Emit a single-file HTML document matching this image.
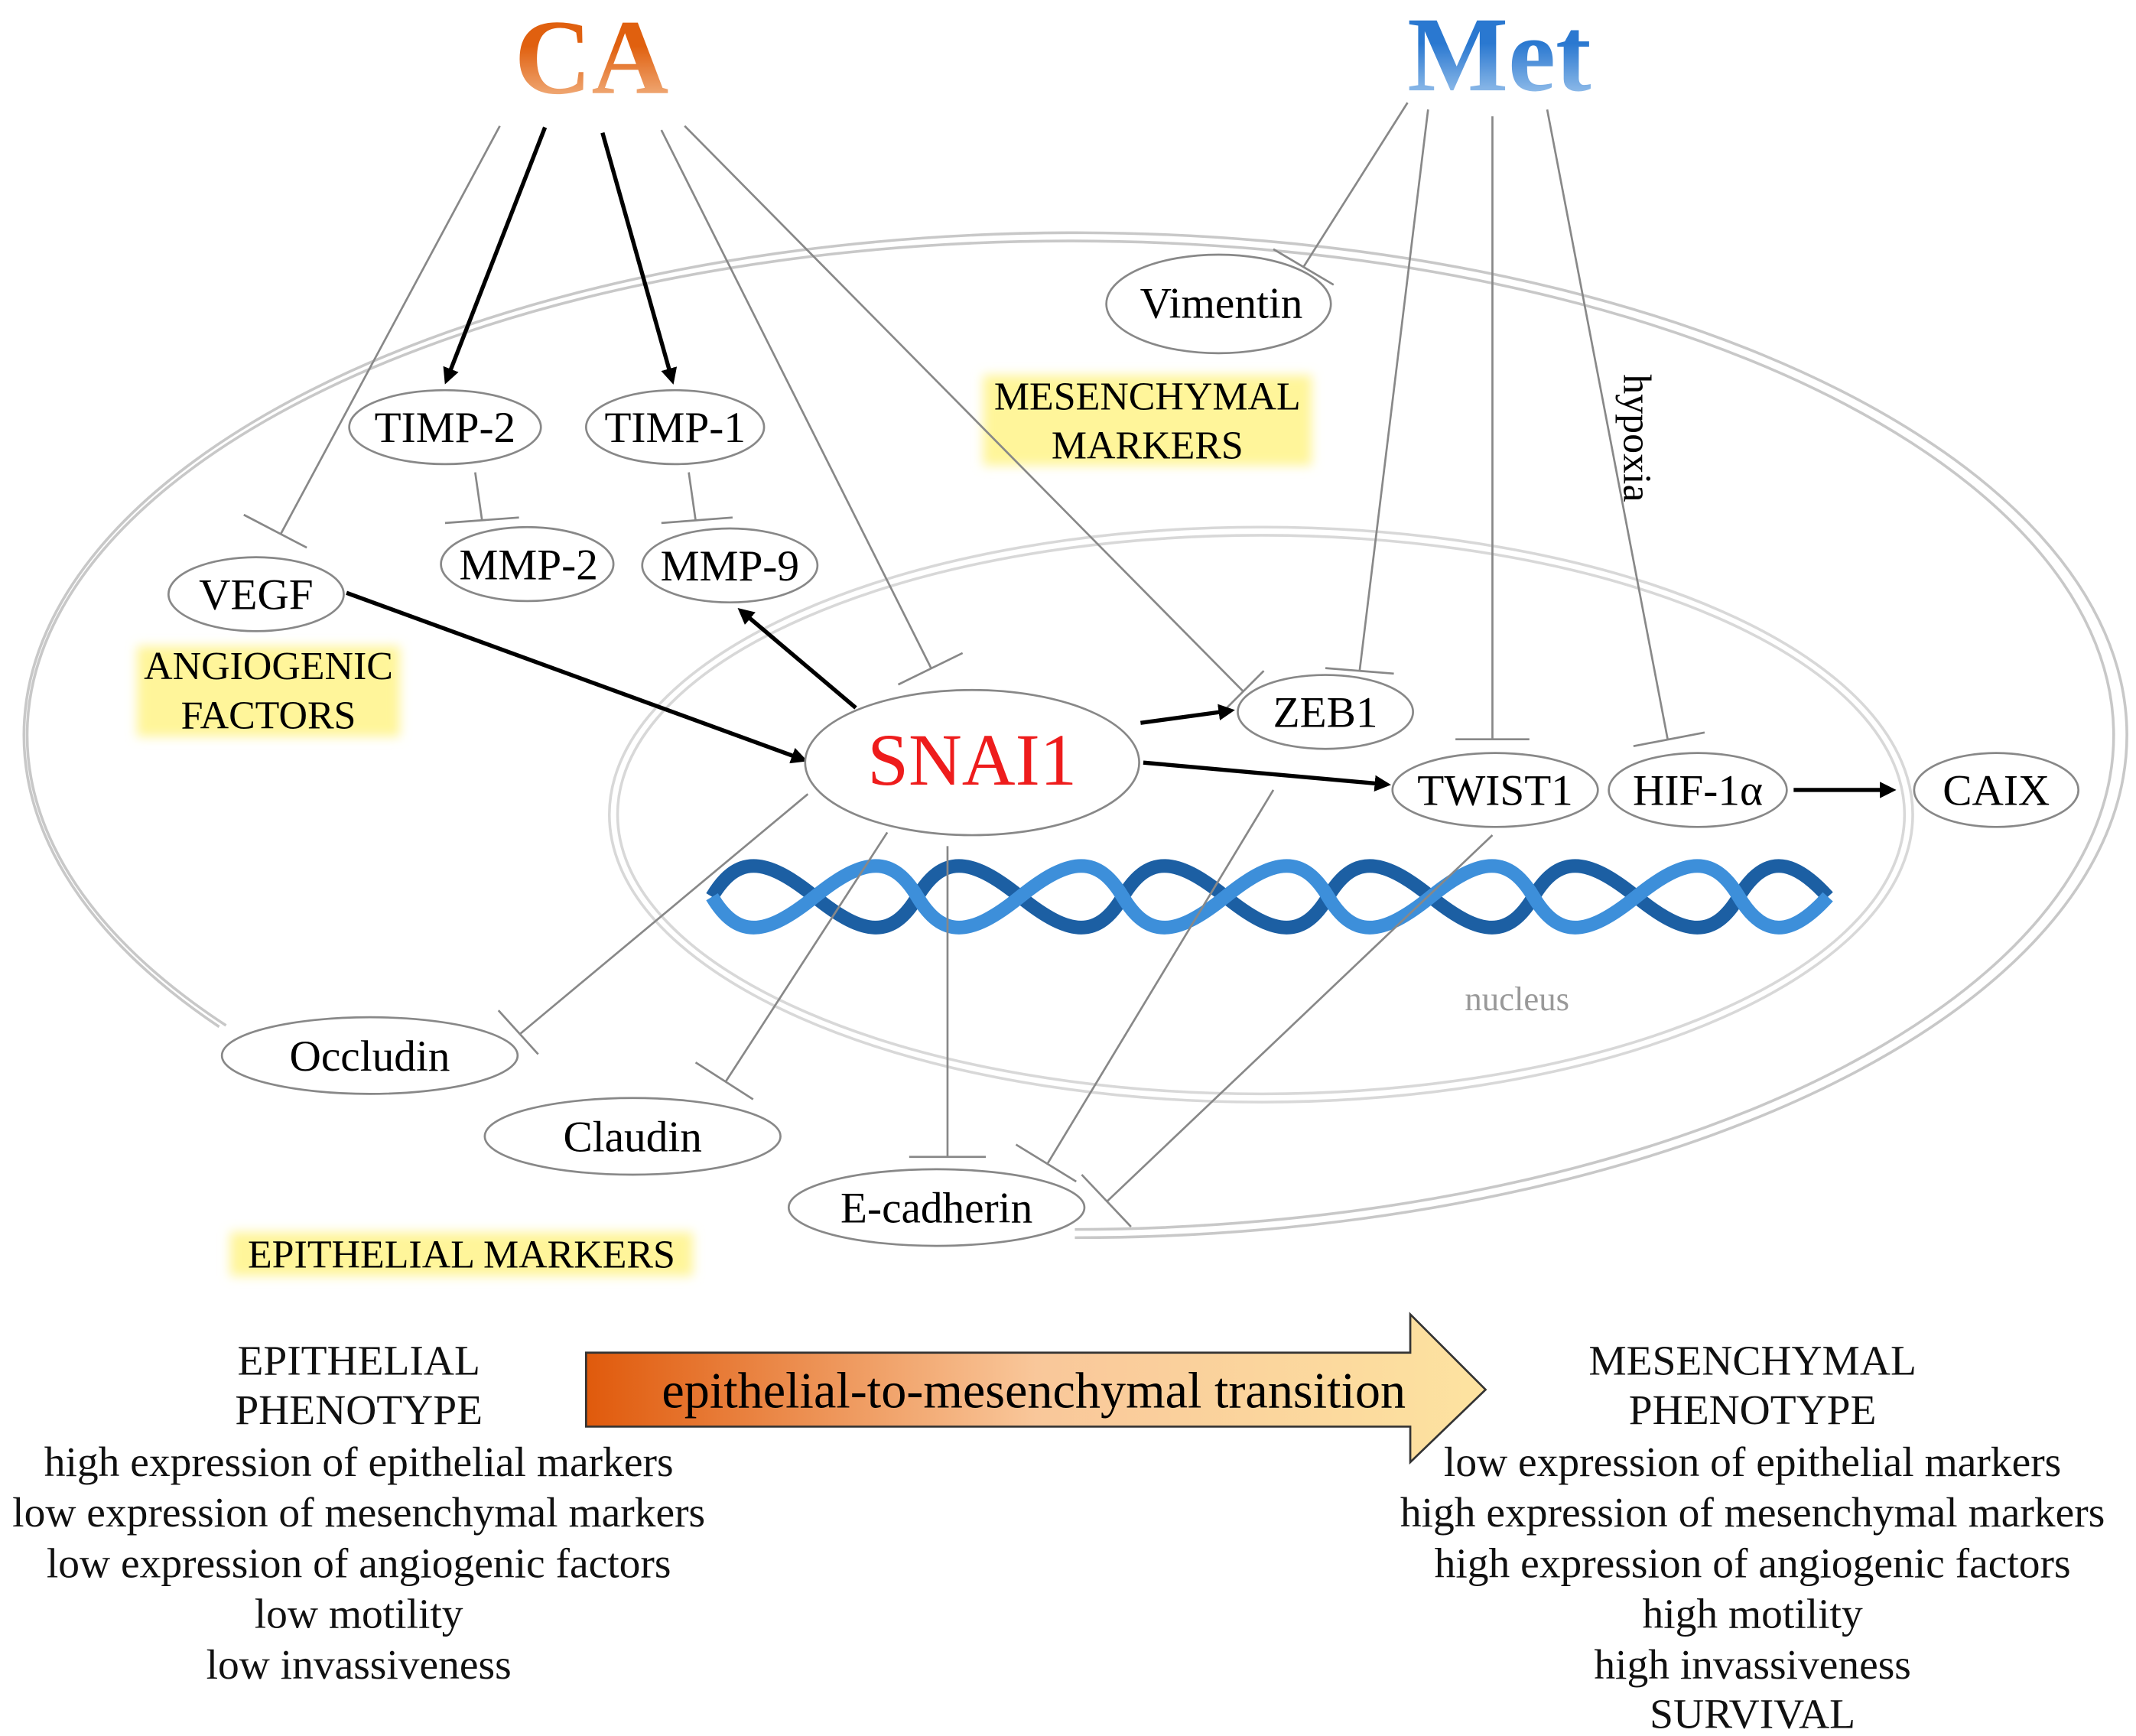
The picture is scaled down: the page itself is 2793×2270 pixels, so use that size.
<!DOCTYPE html>
<html><head><meta charset="utf-8"><style>
html,body{margin:0;padding:0;background:#fff;}
svg{display:block;}
text{font-family:"Liberation Serif",serif;}
</style></head><body>
<svg width="2793" height="2270" viewBox="0 0 1560 1268" xmlns="http://www.w3.org/2000/svg">
<defs>
<linearGradient id="ca" x1="0" y1="0" x2="0" y2="1"><stop offset="0.4" stop-color="#e0600f"/><stop offset="1" stop-color="#f6c7a0"/></linearGradient>
<linearGradient id="met" x1="0" y1="0" x2="0" y2="1"><stop offset="0.4" stop-color="#2a78d0"/><stop offset="1" stop-color="#b8d6f3"/></linearGradient>
<linearGradient id="emt" x1="0" y1="0" x2="1" y2="0"><stop offset="0" stop-color="#e05a0c"/><stop offset="0.5" stop-color="#f9c79a"/><stop offset="1" stop-color="#fde3a0"/></linearGradient>
<marker id="ah" markerWidth="12" markerHeight="12" refX="9" refY="6" orient="auto" markerUnits="userSpaceOnUse" viewBox="0 0 12 12"><path d="M0,0 L12,6 L0,12 z" fill="#000"/></marker>
<filter id="glow" x="-20%" y="-50%" width="140%" height="200%"><feGaussianBlur stdDeviation="4"/></filter>
</defs>

<!-- outer cell -->
<path d="M785,904 A768,367 0 1 0 160,750" fill="none" stroke="#c8c8c8" stroke-width="2"/>
<path d="M785,898 A762,361 0 1 0 165,749" fill="none" stroke="#c8c8c8" stroke-width="2"/>
<!-- nucleus -->
<ellipse cx="921" cy="595" rx="476" ry="210" fill="none" stroke="#d8d8d8" stroke-width="2"/>
<ellipse cx="921" cy="595" rx="470" ry="204" fill="none" stroke="#d8d8d8" stroke-width="2"/>
<text x="1108" y="738" font-size="25" fill="#999" text-anchor="middle">nucleus</text>

<!-- DNA -->
<g fill="none" stroke-width="10">
<path d="M520,655 C538,625 558,625 595,655 S652,685 670,655 S708,625 745,655 S802,685 820,655 S858,625 895,655 S952,685 970,655 S1008,625 1045,655 S1102,685 1120,655 S1158,625 1195,655 S1252,685 1270,655 S1308,625 1335,655" stroke="#1c5fa3"/>
<path d="M520,655 C538,685 558,685 595,655 S652,625 670,655 S708,685 745,655 S802,625 820,655 S858,685 895,655 S952,625 970,655 S1008,685 1045,655 S1102,625 1120,655 S1158,685 1195,655 S1252,625 1270,655 S1308,685 1335,655" stroke="#3d8fda"/>
</g>

<!-- highlight labels -->
<g font-size="29" text-anchor="middle">
<rect x="718" y="274" width="240" height="66" fill="#fff59a" filter="url(#glow)"/>
<text x="838" y="299">MESENCHYMAL</text><text x="838" y="335">MARKERS</text>
<rect x="100" y="472" width="192" height="66" fill="#fff59a" filter="url(#glow)"/>
<text x="196" y="496">ANGIOGENIC</text><text x="196" y="532">FACTORS</text>
<rect x="168" y="900" width="338" height="32" fill="#fff59a" filter="url(#glow)"/>
<text x="337" y="926">EPITHELIAL MARKERS</text>
</g>

<!-- inhibition lines -->
<g stroke="#888" stroke-width="1.5" fill="none">
<line x1="365" y1="92" x2="205" y2="390"/><line x1="178" y1="376" x2="224" y2="400"/>
<line x1="483" y1="95" x2="680" y2="488"/><line x1="656" y1="500" x2="703" y2="477"/>
<line x1="500" y1="92" x2="908" y2="505"/><line x1="893" y1="520" x2="923" y2="490"/>
<line x1="1028" y1="75" x2="952" y2="195"/><line x1="930" y1="182" x2="974" y2="208"/>
<line x1="1043" y1="80" x2="993" y2="490"/><line x1="968" y1="488" x2="1018" y2="492"/>
<line x1="1090" y1="85" x2="1090" y2="540"/><line x1="1063" y1="540" x2="1117" y2="540"/>
<line x1="1130" y1="80" x2="1218" y2="540"/><line x1="1193" y1="545" x2="1245" y2="535"/>
<line x1="347" y1="345" x2="352" y2="380"/><line x1="325" y1="382" x2="379" y2="378"/>
<line x1="503" y1="345" x2="508" y2="380"/><line x1="483" y1="382" x2="535" y2="378"/>
<line x1="590" y1="580" x2="380" y2="755"/><line x1="364" y1="738" x2="393" y2="770"/>
<line x1="648" y1="608" x2="530" y2="790"/><line x1="508" y1="776" x2="550" y2="803"/>
<line x1="692" y1="618" x2="692" y2="845"/><line x1="664" y1="845" x2="720" y2="845"/>
<line x1="930" y1="577" x2="765" y2="850"/><line x1="742" y1="836" x2="786" y2="863"/>
<line x1="1090" y1="610" x2="808" y2="878"/><line x1="790" y1="858" x2="826" y2="896"/>
</g>
<text transform="translate(1186,320) rotate(90)" font-size="29" text-anchor="middle">hypoxia</text>

<!-- arrows -->
<g stroke="#000" stroke-width="3" fill="none" marker-end="url(#ah)">
<line x1="398" y1="93" x2="326" y2="278"/>
<line x1="440" y1="97" x2="491" y2="278"/>
<line x1="253" y1="433" x2="587" y2="555"/>
<line x1="625" y1="517" x2="541" y2="446"/>
<line x1="833" y1="528" x2="899" y2="519"/>
<line x1="835" y1="557" x2="1013" y2="573"/>
<line x1="1310" y1="577" x2="1382" y2="577"/>
</g>

<!-- nodes -->
<g fill="#fff" stroke="#888" stroke-width="1.5">
<ellipse cx="890" cy="222" rx="82" ry="36"/>
<ellipse cx="325" cy="312" rx="70" ry="27"/>
<ellipse cx="493" cy="312" rx="65" ry="27"/>
<ellipse cx="385" cy="412" rx="63" ry="27"/>
<ellipse cx="533" cy="413" rx="64" ry="27"/>
<ellipse cx="187" cy="434" rx="64" ry="27"/>
<ellipse cx="710" cy="557" rx="122" ry="53"/>
<ellipse cx="968" cy="520" rx="64" ry="27"/>
<ellipse cx="1092" cy="577" rx="75" ry="27"/>
<ellipse cx="1240" cy="577" rx="65" ry="27"/>
<ellipse cx="1458" cy="577" rx="60" ry="27"/>
<ellipse cx="270" cy="771" rx="108" ry="28"/>
<ellipse cx="462" cy="830" rx="108" ry="28"/>
<ellipse cx="684" cy="882" rx="108" ry="28"/>
</g>
<g font-size="32" text-anchor="middle">
<text x="892" y="232">Vimentin</text>
<text x="325" y="323">TIMP-2</text>
<text x="493" y="323">TIMP-1</text>
<text x="386" y="423">MMP-2</text>
<text x="533" y="424">MMP-9</text>
<text x="187" y="445">VEGF</text>
<text x="968" y="531">ZEB1</text>
<text x="1092" y="588">TWIST1</text>
<text x="1240" y="588">HIF-1α</text>
<text x="1458" y="588">CAIX</text>
<text x="270" y="782">Occludin</text>
<text x="462" y="841">Claudin</text>
<text x="684" y="893">E-cadherin</text>
</g>
<text x="710" y="573" font-size="54" fill="#ee1c1c" text-anchor="middle">SNAI1</text>

<!-- titles -->
<text x="432" y="68" font-size="78" font-weight="bold" fill="url(#ca)" text-anchor="middle">CA</text>
<text x="1095" y="66" font-size="78" font-weight="bold" fill="url(#met)" text-anchor="middle">Met</text>

<!-- EMT arrow -->
<path d="M428,988 L1030,988 L1030,960 L1085,1015 L1030,1068 L1030,1042 L428,1042 Z" fill="url(#emt)" stroke="#333" stroke-width="1.5"/>
<text x="755" y="1028" font-size="37" text-anchor="middle">epithelial-to-mesenchymal transition</text>

<!-- phenotype texts -->
<g font-size="31" text-anchor="middle" fill="#111">
<text x="262" y="1004">EPITHELIAL</text>
<text x="262" y="1040">PHENOTYPE</text>
<text x="262" y="1078">high expression of epithelial markers</text>
<text x="262" y="1115">low expression of mesenchymal markers</text>
<text x="262" y="1152">low expression of angiogenic factors</text>
<text x="262" y="1189">low motility</text>
<text x="262" y="1226">low invassiveness</text>
<text x="1280" y="1004">MESENCHYMAL</text>
<text x="1280" y="1040">PHENOTYPE</text>
<text x="1280" y="1078">low expression of epithelial markers</text>
<text x="1280" y="1115">high expression of mesenchymal markers</text>
<text x="1280" y="1152">high expression of angiogenic factors</text>
<text x="1280" y="1189">high motility</text>
<text x="1280" y="1226">high invassiveness</text>
<text x="1280" y="1262">SURVIVAL</text>
</g>
</svg>
</body></html>
